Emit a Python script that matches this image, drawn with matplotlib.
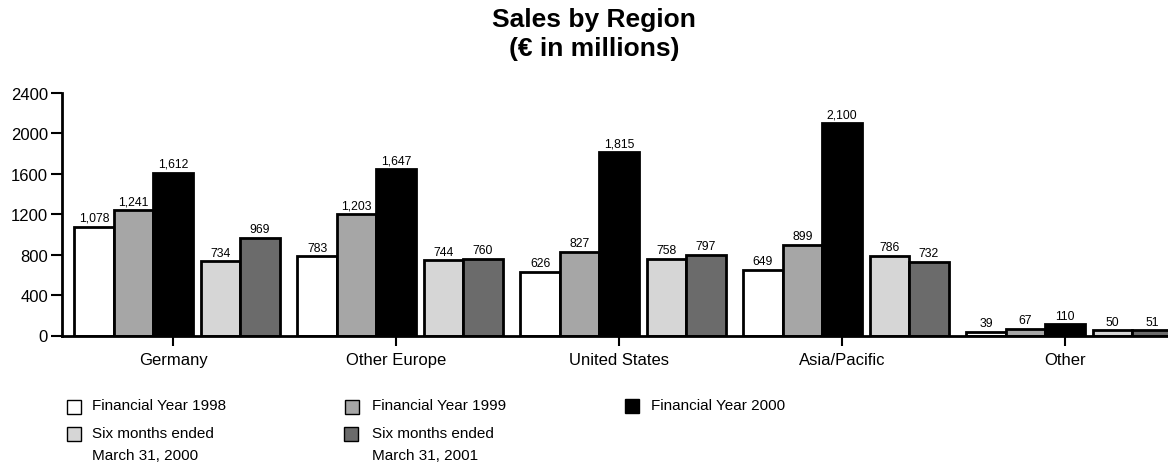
"""
Sales by region, grouped bars with a manual legend under the axes.
"""
import matplotlib
matplotlib.use('Agg')
import matplotlib.pyplot as plt
from matplotlib.patches import Rectangle

plt.rcParams['font.family'] = ['Liberation Sans', 'DejaVu Sans']

regions = ['Germany', 'Other Europe', 'United States', 'Asia/Pacific', 'Other']
fy1998 = [1078, 783, 626, 649, 39]
fy1999 = [1241, 1203, 827, 899, 67]
fy2000 = [1612, 1647, 1815, 2100, 110]
six_2000 = [734, 744, 758, 786, 50]
six_2001 = [969, 760, 797, 732, 51]

series_names = ['Financial Year 1998', 'Financial Year 1999', 'Financial Year 2000',
                'Six months ended\nMarch 31, 2000', 'Six months ended\nMarch 31, 2001']
colors = ['#ffffff', '#a6a6a6', '#000000', '#d6d6d6', '#6b6b6b']
y_ticks = [0, 400, 800, 1200, 1600, 2000, 2400]

W, H = 1168, 464
fig = plt.figure(figsize=(W / 100, H / 100), dpi=100)
ax = fig.add_axes([62 / W, (H - 336.5) / H, 1 - 62 / W, (336.5 - 94) / H])

w = 0.177    # bar width
gap = 0.036  # gap between full-year bars and six-month bars
offsets = [-2 * w, -w, 0, w + gap, 2 * w + gap]

all_series = [fy1998, fy1999, fy2000, six_2000, six_2001]
x = list(range(len(regions)))
for vals, off, col in zip(all_series, offsets, colors):
    bars = ax.bar([i + off for i in x], vals, width=w, color=col,
                  edgecolor='black', linewidth=2, zorder=3)
    ax.bar_label(bars, labels=[f'{v:,}' for v in vals], padding=2, fontsize=8.8)

ax.set_xlim(-0.498, 4.462)
ax.set_ylim(0, 2400)
ax.set_yticks(y_ticks)
ax.set_yticklabels([str(t) for t in y_ticks], fontsize=12)
ax.set_xticks(x)
ax.set_xticklabels(regions, fontsize=12)
ax.tick_params(axis='y', length=8, width=1.5, pad=2)
ax.tick_params(axis='x', length=7, width=1.5, pad=5)
for s in ['top', 'right']:
    ax.spines[s].set_visible(False)
ax.spines['left'].set_linewidth(2)
ax.spines['bottom'].set_linewidth(2)
ax.spines['bottom'].set_zorder(4)

fig.text(594 / W, 1 - 20 / H, 'Sales by Region', ha='center', va='center',
         fontsize=19, fontweight='bold')
fig.text(594 / W, 1 - 49 / H, '(€ in millions)', ha='center', va='center',
         fontsize=19, fontweight='bold')

# legend, laid out by hand: (marker left, marker centre y, text x)
legend_pos = [(67, 407.5, 92), (345, 407.5, 372), (625, 407, 651),
              (67, 435, 92), (344, 435, 372)]
for (mx, my, tx), name, col in zip(legend_pos, series_names, colors):
    fig.add_artist(Rectangle((mx / W, 1 - (my + 7) / H), 14 / W, 14 / H,
                             facecolor=col, edgecolor='black', linewidth=1,
                             transform=fig.transFigure))
    fig.text(tx / W, 1 - (my - 8) / H, name, ha='left', va='top',
             fontsize=11, linespacing=1.7)

fig.savefig('out.png', dpi=100)
